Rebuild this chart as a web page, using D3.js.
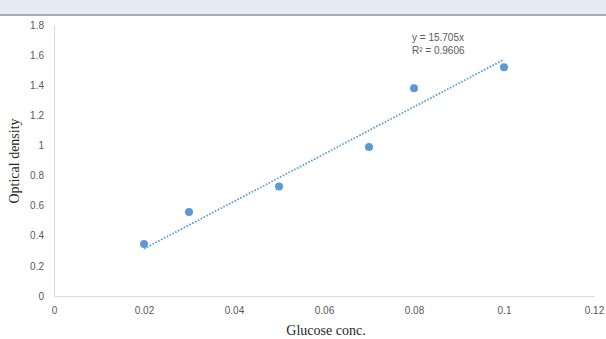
<!DOCTYPE html>
<html>
<head>
<meta charset="utf-8">
<script src="https://cdn.jsdelivr.net/npm/d3@7"></script>
<style>
  body { margin: 0; background: #fff; }
  svg { display: block; }
</style>
</head>
<body>
<div id="chart"></div>
<script>
var width = 606,
    height = 339;

// data
var concentrations = [0.02, 0.03, 0.05, 0.07, 0.08, 0.1];
var densities = [0.345, 0.558, 0.727, 0.99, 1.38, 1.52];
var xTicks = [0, 0.02, 0.04, 0.06, 0.08, 0.1, 0.12];
var yTicks = [0, 0.2, 0.4, 0.6, 0.8, 1, 1.2, 1.4, 1.6, 1.8];
var slope = 15.705;
var trendLabels = ["y = 15.705x", "R² = 0.9606"];

var svg = d3.select("#chart")
    .append("svg")
    .attr("width", width)
    .attr("height", height);

// header band from the source screenshot
svg.append("rect")
    .attr("x", 0).attr("y", 0)
    .attr("width", width).attr("height", 14)
    .attr("fill", "#e4ebf3");
svg.append("rect")
    .attr("x", 0).attr("y", 14)
    .attr("width", width).attr("height", 2)
    .attr("fill", "#a9adb2");

var x = d3.scaleLinear()
    .domain([0, 0.12])
    .range([54, 594]);

var y = d3.scaleLinear()
    .domain([0, 1.8])
    .range([296, 25]);

var fmt = function (d) { return String(+d.toFixed(2)); };

// y axis
var yAxis = svg.append("g")
    .attr("transform", "translate(54,0)")
    .call(d3.axisLeft(y).tickValues(yTicks).tickFormat(fmt).tickSize(0).tickPadding(10));
yAxis.select(".domain").attr("stroke", "#d9d9d9");
yAxis.selectAll("text")
    .attr("fill", "#595959")
    .style("font-family", "'Liberation Sans', Arial, sans-serif")
    .style("font-size", "10px");

// x axis
var xAxis = svg.append("g")
    .attr("transform", "translate(0,296)")
    .call(d3.axisBottom(x).tickValues(xTicks).tickFormat(fmt).tickSize(0).tickPadding(11));
xAxis.select(".domain").attr("stroke", "#d9d9d9");
xAxis.selectAll("text")
    .attr("fill", "#595959")
    .style("font-family", "'Liberation Sans', Arial, sans-serif")
    .style("font-size", "10px");

// trendline
var xMin = d3.min(concentrations), xMax = d3.max(concentrations);
svg.append("line")
    .attr("x1", x(xMin)).attr("y1", y(slope * xMin))
    .attr("x2", x(xMax)).attr("y2", y(slope * xMax))
    .attr("stroke", "#5b9bd5")
    .attr("stroke-width", 1.8)
    .attr("stroke-dasharray", "1.6,1.6");

// points
svg.append("g")
    .selectAll("circle")
    .data(concentrations)
    .enter()
    .append("circle")
    .attr("cx", function (d) { return x(d); })
    .attr("cy", function (d, i) { return y(densities[i]); })
    .attr("r", 4)
    .attr("fill", "#5b9bd5");

// equation labels
svg.append("g")
    .selectAll("text")
    .data(trendLabels)
    .enter()
    .append("text")
    .attr("x", 412)
    .attr("y", function (d, i) { return 41 + i * 13; })
    .attr("fill", "#595959")
    .style("font-family", "'Liberation Sans', Arial, sans-serif")
    .style("font-size", "10px")
    .text(function (d) { return d; });

// axis titles
svg.append("text")
    .attr("x", 326)
    .attr("y", 335)
    .attr("text-anchor", "middle")
    .attr("fill", "#262626")
    .style("font-family", "'Liberation Serif', 'Times New Roman', serif")
    .style("font-size", "14px")
    .text("Glucose conc.");

svg.append("text")
    .attr("transform", "translate(19,161) rotate(-90)")
    .attr("text-anchor", "middle")
    .attr("fill", "#262626")
    .style("font-family", "'Liberation Serif', 'Times New Roman', serif")
    .style("font-size", "14px")
    .text("Optical density");
</script>
</body>
</html>
